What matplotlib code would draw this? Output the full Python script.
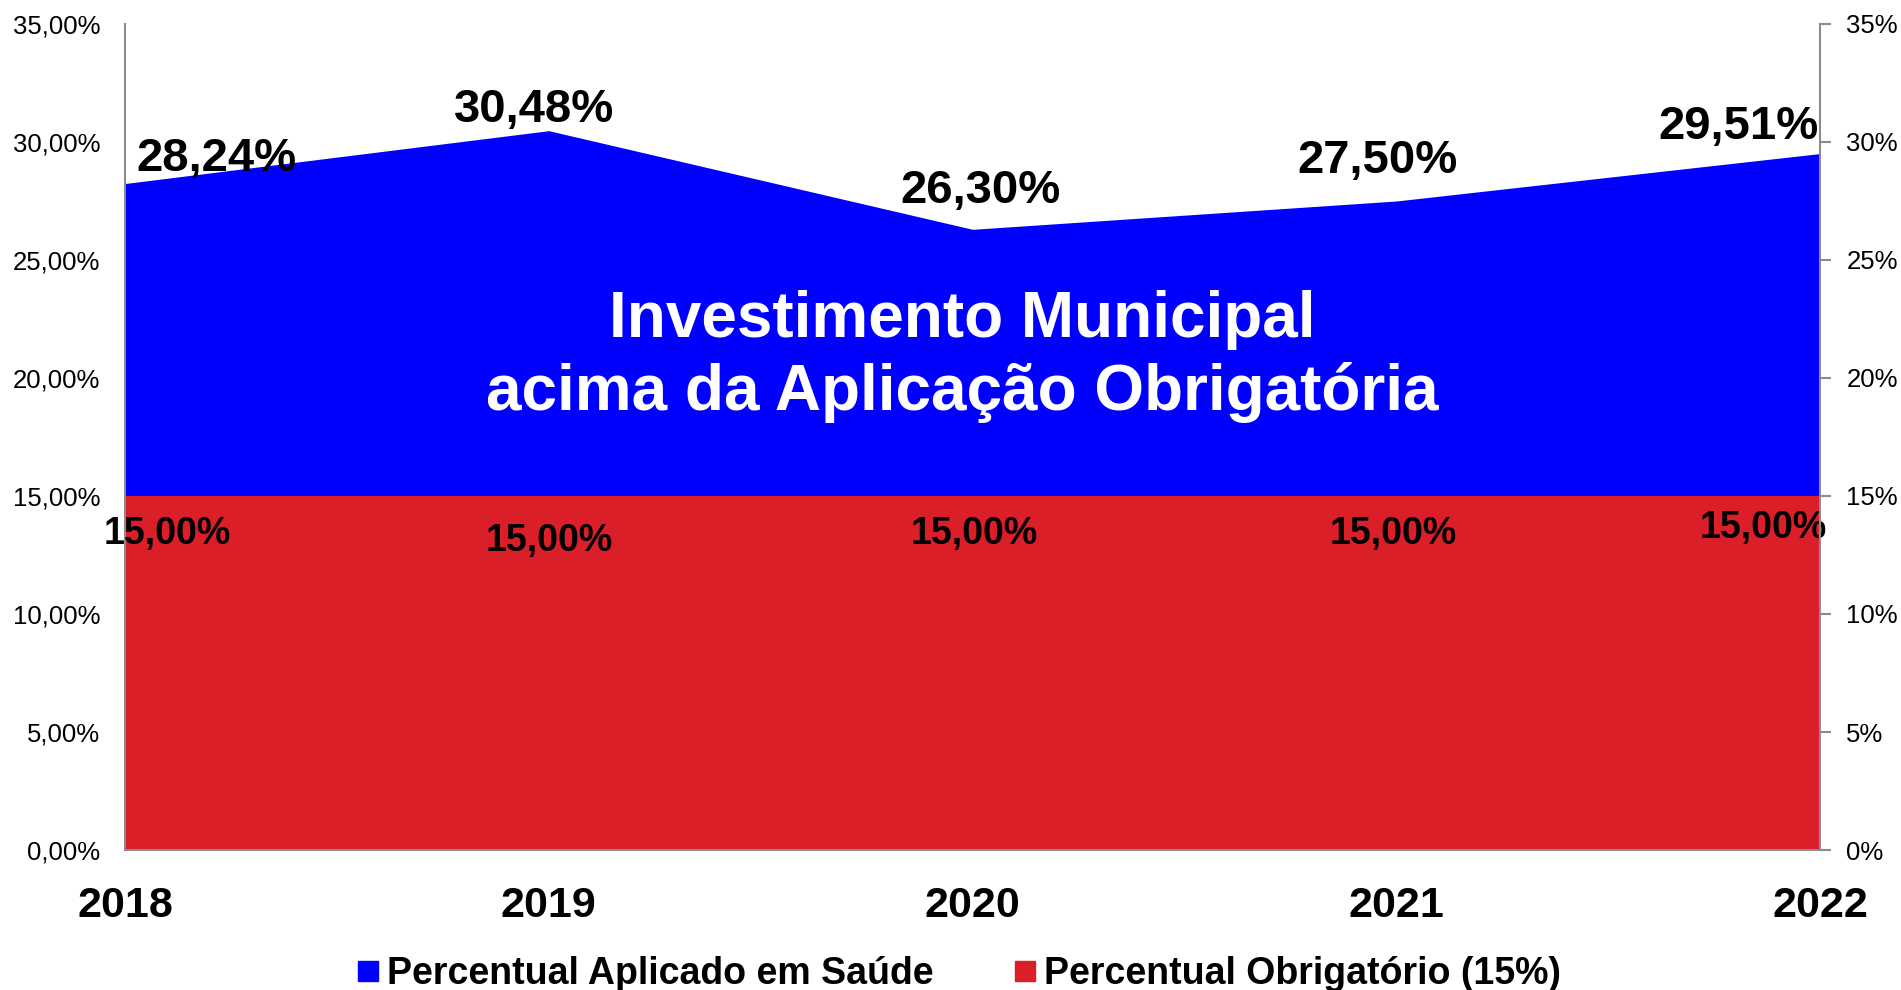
import matplotlib.pyplot as plt
from matplotlib.lines import Line2D
from matplotlib.ticker import FuncFormatter

anos = ['2018', '2019', '2020', '2021', '2022']
aplicado = [28.24, 30.48, 26.30, 27.50, 29.51]
obrigatorio = [15.00, 15.00, 15.00, 15.00, 15.00]

azul = '#0000ff'
vermelho = '#da1f28'
cinza = '#8c8c8c'

# posição dos rótulos (deslocamento em x e altura em %)
rot_ap_dx = [0.215, -0.035, 0.019, -0.045, -0.192]
rot_ap_y = [29.30, 31.35, 27.91, 29.19, 30.63]
rot_ob_dx = [0.10, 0.0, 0.004, -0.008, -0.135]
rot_ob_y = [13.40, 13.09, 13.40, 13.40, 13.65]

plt.rcParams['font.family'] = ['Liberation Sans', 'DejaVu Sans']

fig = plt.figure(figsize=(19.01, 9.90), dpi=100)
ax = fig.add_axes([125 / 1901, 1 - 850 / 990, (1820 - 125) / 1901, (850 - 24) / 990])
x = list(range(len(anos)))

ax.fill_between(x, 0, aplicado, color=azul, lw=0, zorder=1)
ax.fill_between(x, 0, obrigatorio, color=vermelho, lw=0, zorder=2)

ax.set_xlim(0, len(anos) - 1)
ax.set_ylim(0, 35)
ax.set_yticks(range(0, 36, 5))
ax.yaxis.set_major_formatter(FuncFormatter(lambda v, p: f'{v:.2f}%'.replace('.', ',')))
ax.tick_params(axis='y', length=0, labelsize=18.5, pad=18)
ax.set_xticks(x)
ax.set_xticklabels(anos, fontsize=31, fontweight='bold')
ax.tick_params(axis='x', length=0, pad=26)

for s in ['top', 'right']:
    ax.spines[s].set_visible(False)
for s in ['left', 'bottom']:
    ax.spines[s].set_color(cinza)
    ax.spines[s].set_linewidth(1.5)
    ax.spines[s].set_zorder(5)

ax2 = ax.twinx()
ax2.set_ylim(0, 35)
ax2.set_yticks(range(0, 36, 5))
ax2.yaxis.set_major_formatter(FuncFormatter(lambda v, p: f'{int(v)}%'))
ax2.tick_params(axis='y', length=8, width=1.5, color=cinza, labelsize=18.5, pad=11)
for s in ['top', 'left', 'bottom']:
    ax2.spines[s].set_visible(False)
ax2.spines['right'].set_color(cinza)
ax2.spines['right'].set_linewidth(1.5)

for i in x:
    ax.text(i + rot_ap_dx[i], rot_ap_y[i], f'{aplicado[i]:.2f}%'.replace('.', ','),
            ha='center', va='center', fontsize=34, fontweight='bold', zorder=6)
    ax.text(i + rot_ob_dx[i], rot_ob_y[i], f'{obrigatorio[i]:.2f}%'.replace('.', ','),
            ha='center', va='center', fontsize=27, fontweight='bold', zorder=6, clip_on=False)

ax.text(0.4938, 0.598, 'Investimento Municipal\nacima da Aplicação Obrigatória',
        transform=ax.transAxes, ha='center', va='center', color='white',
        fontsize=46, fontweight='bold', linespacing=1.25, zorder=6)

handles = [Line2D([], [], marker='s', ls='', color=azul, markersize=14),
           Line2D([], [], marker='s', ls='', color=vermelho, markersize=14)]
fig.legend(handles, ['Percentual Aplicado em Saúde', 'Percentual Obrigatório (15%)'],
           loc='center', bbox_to_anchor=(960 / 1901, 1 - 974 / 990), ncol=2, frameon=False,
           handletextpad=0.25, columnspacing=2.2, handlelength=0.5,
           prop={'weight': 'bold', 'size': 27})

fig.savefig('out.png', dpi=100)
